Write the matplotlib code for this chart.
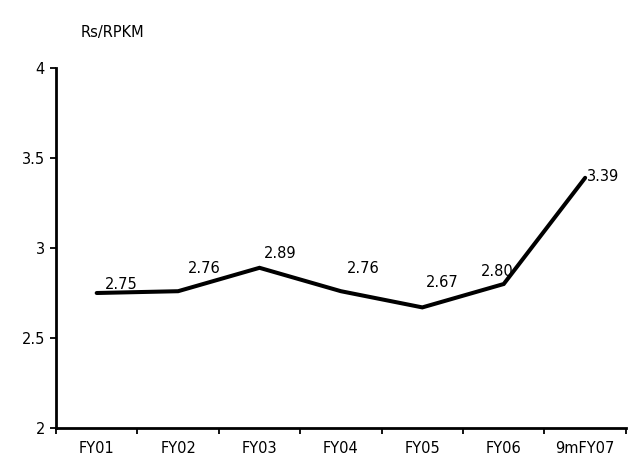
import matplotlib
matplotlib.use("Agg")
import matplotlib.pyplot as plt

# ── data ─────────────────────────────────────────────────────────
years  = ['FY01', 'FY02', 'FY03', 'FY04', 'FY05', 'FY06', '9mFY07']
yields = [2.75, 2.76, 2.89, 2.76, 2.67, 2.80, 3.39]
# label offsets (points) relative to each point
lbl_dx = [18, 19, 15, 16, 14, -5, 1]
lbl_dy = [6, 16, 10, 16, 18, 9, 1]
lbl_ha = ['center', 'center', 'center', 'center', 'center', 'center', 'left']

FS = 10.5
plt.rcParams['font.family'] = ['DejaVu Sans']

fig = plt.figure(figsize=(6.29, 4.58), dpi=100)
ax = fig.add_axes([0.089, 0.0655, 0.906, 0.786])

x = list(range(len(years)))
ax.plot(x, yields, color='black', linewidth=2.9,
        solid_joinstyle='miter', solid_capstyle='round')

for xi, v, dx, dy, ha in zip(x, yields, lbl_dx, lbl_dy, lbl_ha):
    ax.annotate(f"{v:.2f}", (xi, v), xytext=(dx, dy), textcoords='offset points',
                ha=ha, va='center', fontsize=FS)

ax.set_xlim(-0.5, len(years) - 0.5)
ax.set_ylim(2, 4)
ax.set_yticks([2, 2.5, 3, 3.5, 4])
ax.set_yticklabels(['2', '2.5', '3', '3.5', '4'])

# category ticks sit on the boundaries, labels in the middle
ax.set_xticks([i - 0.5 for i in range(len(years) + 1)])
ax.set_xticklabels([])
ax.set_xticks(x, minor=True)
ax.set_xticklabels(years, minor=True)
ax.tick_params(axis='x', which='minor', length=0, pad=9, labelsize=FS)
ax.tick_params(axis='x', which='major', length=4, width=1.3, direction='out')
ax.tick_params(axis='y', length=4, width=1.3, direction='out', labelsize=FS, pad=4)

for side in ['top', 'right']:
    ax.spines[side].set_visible(False)
for side in ['left', 'bottom']:
    ax.spines[side].set_linewidth(2)

fig.text(0.178, 0.93, 'Rs/RPKM', ha='center', va='center', fontsize=FS)

fig.savefig('out.png', dpi=100)
